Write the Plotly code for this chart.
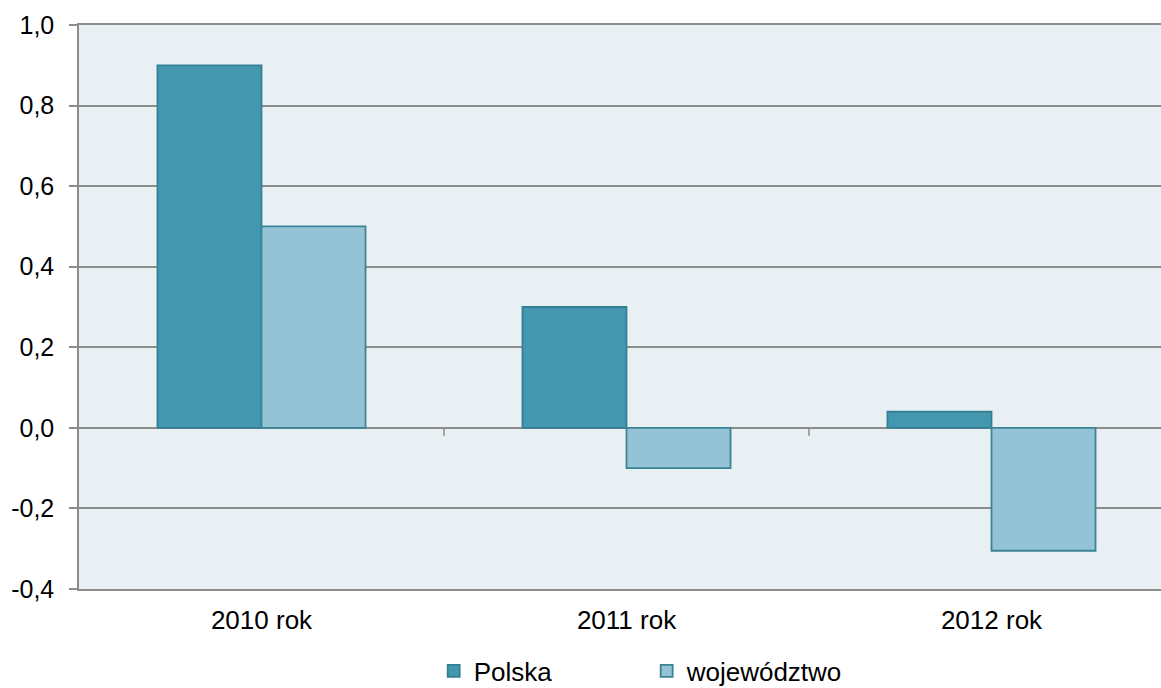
import plotly.graph_objects as go

categories = ["2010 rok", "2011 rok", "2012 rok"]
polska = [0.9, 0.3, 0.04]
wojewodztwo = [0.5, -0.1, -0.305]
y_tickvals = [-0.4, -0.2, 0.0, 0.2, 0.4, 0.6, 0.8, 1.0]
y_ticktext = ["-0,4", "-0,2", "0,0", "0,2", "0,4", "0,6", "0,8", "1,0"]

FONT = "Liberation Sans, Arial, sans-serif"

fig = go.Figure()
fig.add_trace(go.Bar(
    name="Polska", x=list(range(len(categories))), y=polska,
    marker=dict(color="#4398AF", line=dict(color="#357F93", width=1.8)),
))
fig.add_trace(go.Bar(
    name="województwo", x=list(range(len(categories))), y=wojewodztwo,
    marker=dict(color="#93C3D4", line=dict(color="#3B8396", width=1.8)),
))

# category boundary tick marks on the zero line
for i in range(len(categories) - 1):
    fig.add_shape(type="line", xref="x", yref="y", x0=i + 0.5, x1=i + 0.5,
                  ysizemode="pixel", yanchor=0, y0=0, y1=-8,
                  line=dict(color="#8C8C8C", width=1.5), layer="above")

fig.update_layout(
    width=1161, height=688,
    margin=dict(l=79, r=0, t=25, b=99),
    plot_bgcolor="#E8F0F4", paper_bgcolor="white",
    barmode="group", bargap=0.43, bargroupgap=0,
    font=dict(family=FONT, size=25, color="black"),
    showlegend=True,
    legend=dict(orientation="h", xref="container", yref="container",
                x=0.557, xanchor="center", y=0.059, yanchor="top",
                font=dict(size=26), entrywidth=168, entrywidthmode="pixels",
                itemwidth=30, traceorder="normal"),
)
fig.update_xaxes(
    range=[-0.5, -0.5 + 1082 / 365], tickvals=list(range(len(categories))),
    ticktext=categories, showgrid=False, zeroline=False,
    showline=True, mirror=True, linecolor="#8C8C8C", linewidth=1.5,
    ticks="", tickfont=dict(size=26), ticklabelstandoff=7, fixedrange=True,
    automargin=False,
)
fig.update_yaxes(
    range=[-0.4, 1.0], tickvals=y_tickvals, ticktext=y_ticktext,
    showgrid=True, gridcolor="#8C8C8C", gridwidth=1.5,
    zeroline=True, zerolinecolor="#8C8C8C", zerolinewidth=1.5,
    showline=True, linecolor="#8C8C8C", linewidth=1.5,
    ticks="outside", ticklen=8, tickwidth=1.5, tickcolor="#8C8C8C",
    tickfont=dict(size=25), ticklabelstandoff=10, automargin=False,
    fixedrange=True,
)

fig.write_html("out.html", config={"displayModeBar": False},
               post_script="document.body.style.margin='0';document.body.style.overflow='hidden';")
